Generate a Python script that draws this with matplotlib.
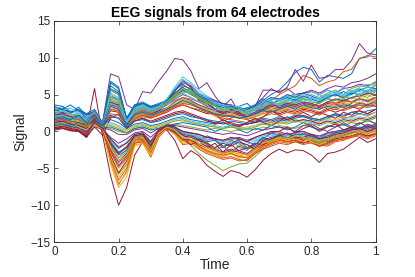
import matplotlib
matplotlib.use("Agg")
import matplotlib.pyplot as plt
from cycler import cycler

# sample times (s, normalised)
time = [0.0, 0.025, 0.05, 0.075, 0.1, 0.125, 0.15, 0.175, 0.2, 0.225, 0.25,
        0.275, 0.3, 0.325, 0.35, 0.375, 0.4, 0.425, 0.45, 0.475, 0.5,
        0.525, 0.55, 0.575, 0.6, 0.625, 0.65, 0.675, 0.7, 0.725, 0.75,
        0.775, 0.8, 0.825, 0.85, 0.875, 0.9, 0.925, 0.95, 0.975, 1.0]

# one list per electrode
ch01 = [3.0, 2.6, 2.4, 3.3, 2.2, 2.8, 1.0, 5.8, 5.2, 1.5, 3.4, 3.6, 3.0, 3.6, 4.0, 5.5, 6.8, 6.0, 5.0, 4.6, 4.0,
        3.8, 3.5, 3.0, 2.8, 3.4, 4.2, 5.0, 5.6, 6.7, 8.0, 8.7, 8.4, 6.7, 7.6, 7.4, 7.2, 7.8, 9.9, 10.1, 11.2]
ch02 = [2.2, 2.5, 2.0, 1.8, 1.9, 2.5, 0.8, 4.6, 4.4, 1.2, 2.8, 3.2, 2.5, 3.0, 3.6, 4.6, 5.8, 5.4, 4.6, 4.2, 3.6,
        3.2, 3.4, 2.8, 2.6, 3.0, 3.6, 4.2, 5.0, 5.6, 6.2, 7.6, 7.2, 6.2, 6.7, 7.0, 8.1, 8.4, 9.9, 10.3, 10.1]
ch03 = [0.8, 1.0, 0.6, 0.4, -0.2, 1.2, 0.4, -4.5, -7.6, -6.2, -1.8, -1.6, -3.4, -0.6, 0.6, -0.2, -1.6, -1.2, -2.0, -2.6, -2.8,
        -3.2, -3.0, -3.4, -3.0, -2.4, -1.8, -1.6, -1.2, -1.4, -1.0, -1.2, -0.8, -1.2, -1.6, -0.8, -0.6, -0.2, 0.2, 0.0, 0.4]
ch04 = [2.6, 2.4, 2.0, 2.2, 1.8, 2.4, 1.2, 7.8, 7.4, 3.6, 3.0, 5.4, 5.2, 6.8, 8.2, 9.9, 9.7, 8.2, 5.8, 6.6, 4.8,
        3.4, 4.4, 2.6, 2.8, 3.4, 5.6, 5.6, 5.4, 5.8, 5.0, 5.2, 5.4, 5.0, 5.6, 5.2, 5.8, 6.0, 6.4, 6.2, 6.6]
ch05 = [0.4, 0.6, 0.3, 0.2, -0.4, 1.0, 0.3, -3.6, -5.8, -4.4, -1.4, -1.2, -3.0, -0.4, 0.8, 0.0, -1.0, -1.9, -3.0, -3.9, -4.6,
        -5.3, -4.8, -4.4, -4.3, -3.4, -2.4, -1.6, -0.8, -1.0, -1.2, -0.9, -1.4, -1.8, -1.5, -1.2, -1.0, -0.6, -0.4, -0.8, -0.2]
ch06 = [2.8, 3.2, 2.6, 2.4, 2.0, 2.2, 1.0, 5.2, 4.6, 1.4, 3.2, 3.6, 3.2, 3.4, 4.4, 6.0, 7.4, 6.6, 5.6, 4.8, 4.2,
        3.4, 3.6, 3.0, 2.6, 3.2, 3.0, 3.6, 3.6, 4.0, 3.8, 4.4, 4.2, 3.8, 4.6, 5.0, 4.4, 5.0, 5.6, 5.2, 5.8]
ch07 = [0.2, 0.4, 0.1, 0.0, -0.8, 0.6, -0.5, -6.0, -10.0, -7.6, -3.2, -1.4, -2.4, 0.0, 0.2, -1.2, -3.7, -2.6, -3.3, -4.6, -5.4,
        -6.1, -5.3, -5.6, -6.2, -5.2, -3.9, -3.0, -2.4, -2.9, -2.5, -2.6, -3.2, -4.2, -3.0, -2.8, -2.4, -1.6, -0.8, -1.5, -1.0]
ch08 = [1.2, 1.4, 1.0, 0.8, 0.6, 1.4, 0.8, 1.6, 1.2, 0.4, 1.0, 1.2, 0.8, 1.0, 1.4, 1.8, 2.0, 1.6, 1.4, 1.2, 1.0,
        1.2, 0.8, 0.9, 1.0, 1.2, 1.4, 1.2, 1.6, 1.4, 1.8, 2.0, 1.6, 1.4, 1.8, 2.2, 1.8, 2.0, 2.4, 2.2, 2.6]
ch09 = [0.6, 0.9, 0.5, 0.3, -0.6, 1.4, 0.2, -4.0, -7.2, -5.4, -1.6, -1.4, -3.5, -0.8, 0.4, -0.4, -1.8, -1.6, -2.4, -3.0, -3.4,
        -3.8, -3.6, -4.0, -3.8, -3.0, -2.2, -1.8, -1.4, -1.6, -1.4, -1.8, -1.5, -2.0, -1.8, -1.2, -1.0, -0.8, -0.4, -0.6, -0.2]
ch10 = [1.8, 2.0, 1.6, 1.4, 1.2, 2.0, 0.9, 3.2, 3.0, 1.0, 2.2, 2.6, 2.2, 2.4, 2.8, 3.4, 3.8, 3.6, 3.2, 3.0, 2.0,
        1.6, 2.2, 2.6, 2.0, 1.6, 2.0, 2.6, 3.2, 2.6, 2.2, 2.8, 3.4, 3.8, 3.0, 3.4, 4.0, 3.6, 3.2, 3.8, 4.4]
ch11 = [3.2, 3.0, 2.6, 2.8, 2.2, 2.6, 1.1, 5.6, 5.0, 1.6, 3.4, 3.8, 3.2, 3.6, 4.2, 5.6, 6.6, 6.2, 5.2, 4.6, 4.2,
        3.8, 3.6, 3.2, 3.0, 3.6, 4.6, 5.8, 5.2, 6.0, 8.4, 6.8, 9.0, 7.2, 7.4, 8.4, 8.4, 9.6, 11.9, 10.6, 10.4]
ch12 = [0.6, 0.8, 0.5, 0.4, 0.2, 0.9, 0.6, 0.4, 0.0, -0.2, 0.4, 0.6, 0.2, 0.4, 0.8, 1.0, 0.8, 0.6, 0.4, 0.2, 0.4,
        0.2, 0.0, 0.2, 0.4, 0.2, 0.6, 0.4, 0.8, 0.6, 0.4, 0.8, 0.6, 0.2, 0.6, 1.0, 0.8, 1.2, 1.0, 1.4, 1.2]
ch13 = [0.9, 1.2, 0.8, 0.6, -0.2, 1.6, 0.5, -2.0, -3.6, -2.4, -0.8, -0.6, -2.0, -0.2, 0.8, 0.4, -0.4, -0.6, -0.6, -1.8, -2.4,
        -1.4, -1.0, -2.2, -2.6, -1.4, -0.8, -1.4, -0.6, -0.2, -0.8, -0.4, -0.8, -1.2, -0.6, -0.4, -0.2, 0.2, 0.4, 0.0, 0.6]
ch14 = [1.0, 1.2, 0.8, 0.6, 0.4, 5.8, -0.6, 1.8, 2.4, 0.6, 1.4, 1.8, 1.2, 1.6, 2.0, 2.4, 2.6, 2.2, 1.8, 1.4, 1.2,
        1.0, 1.2, 0.8, 1.0, 1.2, 1.6, 1.4, 1.8, 1.6, 2.0, 2.2, 1.8, 1.6, 2.0, 2.4, 2.0, 2.6, 2.8, 2.4, 3.0]
ch15 = [3.4, 3.0, 3.6, 2.8, 2.4, 3.0, 1.2, 6.2, 5.4, 1.8, 3.6, 3.8, 3.4, 3.8, 4.2, 5.2, 6.0, 5.2, 4.6, 4.2, 3.0,
        3.6, 2.6, 3.4, 3.8, 2.8, 3.2, 4.0, 3.2, 3.6, 4.4, 3.8, 3.2, 4.0, 4.6, 3.8, 3.2, 3.8, 4.4, 4.0, 4.6]
ch16 = [1.6, 1.8, 1.4, 1.2, 1.0, 2.4, 0.8, 4.0, 3.4, 0.8, 2.0, 2.4, 2.0, 2.6, 3.0, 3.6, 4.0, 3.8, 3.4, 2.8, 2.4,
        2.0, 2.2, 1.8, 2.0, 2.4, 2.8, 3.2, 3.0, 3.4, 3.2, 3.6, 3.4, 3.0, 3.6, 3.4, 3.8, 3.4, 4.0, 3.6, 4.2]
ch17 = [0.3, 0.6, 0.2, 0.1, -0.6, 1.0, 0.2, -3.4, -6.2, -4.6, -1.4, -1.2, -3.2, -0.6, 0.5, -0.4, -1.4, -1.6, -2.2, -2.6, -3.0,
        -3.4, -3.0, -3.6, -3.4, -2.6, -2.0, -1.6, -1.2, -1.4, -1.0, -1.2, -1.0, -1.6, -1.4, -1.0, -0.8, -0.4, 0.0, -0.2, 0.2]
ch18 = [2.4, 2.6, 2.2, 2.0, 1.6, 2.2, 1.0, 4.8, 4.4, 1.2, 3.0, 3.4, 2.8, 3.4, 4.0, 5.0, 6.2, 5.8, 4.8, 4.4, 3.8,
        3.4, 3.6, 3.0, 2.8, 3.2, 3.8, 4.4, 4.4, 4.8, 5.0, 5.2, 5.6, 5.2, 5.8, 6.2, 6.0, 6.6, 6.8, 7.2, 7.8]
ch19 = [2.0, 2.2, 1.8, 1.8, 1.4, 2.2, 0.9, 4.4, 4.0, 1.0, 2.6, 3.0, 2.4, 3.0, 3.6, 4.4, 5.6, 5.4, 4.6, 3.4, 3.6,
        2.8, 3.4, 2.4, 2.8, 3.2, 2.6, 3.8, 3.6, 4.2, 4.8, 4.0, 4.6, 4.2, 4.8, 5.0, 4.6, 5.2, 5.8, 5.4, 6.4]
ch20 = [0.7, 1.0, 0.6, 0.5, -0.2, 1.2, 0.6, -1.2, -2.4, -1.4, -0.4, -0.2, -1.2, 0.0, 0.8, 0.6, 0.0, -0.2, -0.6, -0.8, -1.0,
        -1.4, -1.2, -1.0, -1.4, -1.0, -0.6, -0.4, -0.2, -0.6, -0.4, -0.2, -0.6, -1.0, -0.4, -0.2, 0.0, 0.4, 0.2, 0.6, 0.4]
ch21 = [1.4, 1.6, 1.2, 1.0, 0.8, 1.8, 0.7, 2.8, 2.6, 0.8, 1.8, 2.2, 1.8, 2.2, 2.6, 3.2, 3.6, 3.2, 2.8, 2.4, 2.4,
        1.4, 1.8, 2.4, 1.6, 1.2, 2.0, 2.8, 2.2, 1.6, 2.0, 2.6, 2.0, 2.6, 2.2, 1.8, 2.6, 2.2, 2.8, 2.4, 3.0]
ch22 = [1.0, 1.2, 0.9, 0.7, 0.0, 1.4, 0.6, -1.8, -3.2, -2.6, -0.8, -0.6, -1.6, -0.2, 1.0, 0.6, -0.2, -0.4, -1.2, -0.6, -1.0,
        -2.0, -1.8, -1.0, -1.4, -1.8, -1.0, -0.2, -0.6, -1.0, 0.0, 0.0, -0.4, -0.8, -0.2, 0.0, 0.2, 0.6, 0.4, 0.8, 0.6]
ch23 = [0.5, 0.7, 0.4, 0.2, -0.6, 1.2, 0.3, -3.8, -6.6, -5.0, -1.6, -1.2, -3.0, -0.4, 0.6, -0.2, -1.2, -1.4, -2.2, -2.8, -3.2,
        -3.6, -3.4, -3.8, -4.0, -3.0, -2.4, -2.0, -1.6, -1.8, -1.4, -1.6, -1.2, -1.8, -2.0, -1.4, -1.2, -0.8, -0.6, -1.0, -0.6]
ch24 = [1.4, 2.2, 2.4, 1.6, 1.0, 2.4, 0.9, 3.6, 3.4, 1.0, 2.4, 2.8, 2.6, 2.8, 3.2, 3.8, 4.2, 4.0, 3.6, 3.2, 2.8,
        2.4, 2.6, 2.2, 2.0, 2.4, 2.8, 3.0, 2.8, 3.2, 3.4, 3.0, 3.6, 3.2, 3.8, 4.2, 4.0, 4.6, 4.2, 5.0, 4.4]
ch25 = [0.8, 1.0, 0.6, 0.4, -0.4, 1.2, 0.4, -2.4, -4.2, -3.2, -1.0, -0.8, -2.2, -0.2, 0.6, 0.0, -0.4, -1.4, -1.0, -1.8, -2.6,
        -2.0, -2.8, -2.0, -2.4, -2.0, -1.4, -1.0, -0.8, -1.2, -0.8, -1.0, -0.6, -1.2, -1.4, -0.8, -0.6, -0.2, 0.0, -0.4, 0.2]
ch26 = [2.6, 2.8, 2.4, 2.2, 1.6, 2.6, 1.0, 5.6, 5.0, 1.4, 3.0, 3.4, 2.8, 3.4, 4.0, 5.0, 5.2, 5.8, 4.2, 4.0, 3.6,
        2.6, 3.2, 2.2, 2.8, 3.0, 3.6, 4.0, 3.8, 4.4, 4.8, 4.4, 5.0, 4.6, 5.2, 5.6, 5.0, 5.8, 6.2, 6.0, 6.8]
ch27 = [3.0, 3.4, 2.8, 2.6, 2.0, 2.4, 1.1, 4.8, 4.2, 1.2, 3.2, 3.6, 3.0, 3.2, 4.2, 5.8, 6.8, 6.0, 4.8, 4.6, 3.8,
        3.6, 3.0, 3.4, 2.8, 3.4, 3.4, 4.6, 4.0, 4.6, 5.0, 4.6, 5.4, 5.0, 5.6, 5.2, 6.0, 5.4, 6.0, 6.4, 6.2]
ch28 = [1.6, 1.8, 1.4, 1.2, 0.8, 2.0, 0.8, 3.8, 3.6, 0.8, 2.2, 2.6, 2.2, 2.8, 3.8, 5.4, 7.0, 6.0, 4.2, 3.8, 3.0,
        2.4, 3.0, 2.6, 1.8, 2.2, 3.0, 2.8, 2.4, 2.8, 2.6, 3.0, 2.8, 2.4, 3.0, 2.6, 3.0, 3.4, 3.0, 3.6, 3.4]
ch29 = [0.4, 0.6, 0.3, 0.2, 0.0, 0.8, 0.5, 0.6, 0.2, -0.2, 0.4, 0.6, 0.2, 0.4, 0.8, 1.0, 1.2, 1.0, 0.8, 0.6, 0.0,
        0.4, 0.8, 0.2, -0.2, 0.4, 0.2, 0.8, 0.6, 0.2, 0.6, 1.2, 0.6, 0.2, 0.8, 0.6, 1.0, 0.4, 1.0, 1.6, 1.0]
ch30 = [0.6, 0.8, 0.5, 0.3, -0.4, 1.0, 0.4, -1.6, -3.0, -2.0, -0.6, -0.4, -1.6, 0.0, 0.8, 0.4, -0.2, -0.4, -0.8, -1.2, -1.0,
        -2.2, -1.2, -1.6, -2.4, -1.8, -0.8, -1.2, -0.2, -0.8, -1.0, -0.2, -0.6, -1.2, -0.2, -0.2, 0.0, 0.2, 0.4, 0.2, 0.6]
ch31 = [0.4, 0.6, 0.3, 0.2, -0.6, 1.1, 0.2, -4.2, -7.0, -5.6, -2.0, -1.6, -3.3, -0.6, 0.4, -0.4, -1.6, -1.4, -2.0, -2.4, -2.6,
        -3.0, -2.8, -3.0, -3.2, -2.6, -1.8, -1.4, -1.0, -1.2, -0.8, -1.0, -0.8, -1.2, -1.0, -0.6, -0.4, 0.0, 0.2, 0.0, 0.4]
ch32 = [0.2, 0.4, 0.1, 0.0, -0.4, 0.6, 0.3, -0.8, -1.6, -1.0, -0.2, 0.0, -0.8, 0.2, 0.6, 0.4, 0.0, -0.2, -0.4, -0.8, -1.0,
        -1.2, -1.0, -0.8, -1.2, -0.8, -0.4, -0.2, 0.0, -0.4, -0.2, 0.0, -0.4, -0.6, -0.2, 0.0, 0.2, 0.4, 0.2, 0.6, 0.4]
ch33 = [1.6, 1.8, 1.4, 1.4, 1.0, 1.8, 0.8, 3.0, 2.8, 0.8, 2.0, 2.4, 2.0, 2.4, 3.0, 3.6, 4.4, 4.0, 3.4, 3.0, 2.6,
        2.2, 2.4, 2.0, 1.8, 2.2, 2.6, 3.0, 2.8, 3.2, 3.6, 3.2, 3.8, 3.4, 4.0, 4.4, 4.0, 4.6, 5.0, 4.6, 5.4]
ch34 = [2.4, 2.8, 2.2, 2.0, 1.6, 2.2, 1.0, 4.2, 3.8, 1.2, 2.8, 3.2, 2.8, 3.0, 3.6, 4.8, 5.8, 5.2, 4.4, 4.0, 3.4,
        3.0, 3.2, 2.8, 2.4, 2.8, 3.4, 3.8, 3.6, 4.2, 4.2, 4.8, 4.2, 5.0, 4.4, 5.2, 4.8, 5.4, 5.8, 5.2, 6.2]
ch35 = [0.7, 0.9, 0.5, 0.4, -0.8, 1.8, 0.2, -3.2, -5.6, -4.0, -1.2, -1.0, -2.8, -0.4, 0.6, 0.0, -1.0, -1.2, -1.8, -2.2, -2.6,
        -3.0, -2.6, -2.8, -3.2, -2.4, -1.8, -1.4, -1.0, -1.4, -1.2, -1.6, -1.2, -2.0, -1.6, -1.0, -0.8, -0.6, -0.2, -0.6, -0.4]
ch36 = [2.8, 3.0, 2.6, 3.0, 1.8, 2.4, 1.0, 6.6, 5.8, 1.6, 3.4, 3.8, 3.2, 3.6, 4.0, 4.8, 5.6, 5.0, 4.4, 4.0, 3.6,
        3.2, 3.4, 3.0, 3.2, 3.6, 4.4, 3.8, 4.2, 4.6, 4.2, 4.8, 4.4, 4.0, 4.6, 5.0, 4.6, 5.2, 5.0, 5.6, 5.4]
ch37 = [1.2, 1.4, 1.0, 0.8, 0.6, 1.6, 0.7, 2.4, 2.2, 0.6, 1.6, 2.0, 1.8, 2.2, 2.8, 3.4, 3.8, 3.6, 3.2, 2.6, 2.2,
        1.8, 1.6, 1.4, 1.2, 1.6, 2.0, 2.4, 2.2, 2.6, 2.4, 2.8, 2.6, 2.2, 2.8, 3.0, 2.8, 3.2, 3.6, 3.2, 3.6]
ch38 = [0.5, 0.8, 0.4, 0.3, -0.4, 1.2, 0.3, -2.8, -5.0, -3.8, -1.2, -1.0, -3.0, -0.4, 0.6, 0.0, -1.0, -1.4, -2.2, -2.8, -3.2,
        -3.4, -3.0, -3.2, -3.6, -2.8, -2.0, -1.4, -1.0, -1.2, -0.8, -1.0, -1.4, -1.8, -1.2, -0.8, -0.6, -0.2, 0.0, -0.4, 0.0]
ch39 = [0.6, 0.8, 0.4, 0.2, -0.6, 1.0, 0.3, -2.6, -4.6, -3.4, -1.0, -0.8, -2.4, -0.2, 0.6, 0.0, -1.0, -1.2, -1.6, -2.0, -2.4,
        -2.8, -2.4, -2.6, -3.0, -2.2, -1.6, -1.2, -0.8, -1.0, -0.6, -0.8, -1.0, -1.4, -1.0, -0.6, -0.4, 0.0, 0.2, -0.2, 0.2]
ch40 = [2.2, 2.4, 2.0, 1.8, 1.4, 2.4, 0.9, 4.2, 3.8, 1.0, 2.6, 3.0, 2.6, 3.2, 3.8, 4.8, 5.4, 5.2, 4.4, 3.8, 3.6,
        2.6, 3.2, 2.8, 2.4, 3.0, 2.8, 3.4, 3.8, 3.4, 4.0, 4.0, 3.6, 3.4, 4.0, 3.8, 4.4, 4.0, 4.6, 5.2, 5.0]
ch41 = [1.0, 1.2, 0.8, 0.7, 0.4, 1.0, 0.7, 1.2, 0.8, 0.2, 0.8, 1.0, 0.6, 0.8, 1.2, 1.6, 1.8, 1.4, 1.2, 1.0, 0.8,
        0.6, 0.8, 0.6, 0.4, 0.8, 1.2, 1.0, 1.4, 1.2, 1.6, 1.4, 1.2, 1.0, 1.6, 1.4, 1.8, 1.6, 2.0, 1.8, 2.2]
ch42 = [0.4, 0.6, 0.2, 0.1, -0.8, 1.4, 0.0, -2.2, -4.0, -3.0, -1.0, -0.8, -2.6, -0.2, 0.4, -0.2, -1.0, -1.8, -1.2, -2.2, -1.6,
        -2.8, -1.8, -2.6, -2.2, -1.6, -1.8, -1.0, -0.6, -1.0, -0.8, -1.2, -0.8, -1.6, -1.0, -0.6, -0.4, -0.2, 0.2, 0.0, 0.2]
ch43 = [3.6, 3.4, 2.6, 3.0, 2.4, 2.6, 1.1, 6.8, 6.0, 1.8, 3.6, 4.0, 3.4, 3.6, 4.2, 5.6, 6.4, 5.6, 4.8, 4.4, 3.8,
        3.4, 3.6, 3.2, 3.0, 3.4, 4.0, 4.6, 4.4, 5.0, 4.6, 5.2, 4.8, 4.4, 5.0, 4.8, 5.4, 5.0, 5.6, 6.0, 5.8]
ch44 = [1.4, 1.6, 1.2, 1.0, 0.8, 2.0, 0.8, 3.0, 2.8, 0.6, 1.8, 2.2, 2.0, 2.4, 3.0, 3.4, 3.6, 3.2, 3.0, 2.6, 2.4,
        2.0, 2.2, 1.8, 1.6, 2.0, 2.4, 2.8, 2.6, 3.0, 2.8, 3.2, 3.0, 2.6, 3.2, 3.0, 3.4, 3.2, 3.6, 3.4, 3.8]
ch45 = [0.4, 1.0, 1.4, 0.6, 0.2, 1.4, 0.6, 1.0, 0.6, 0.0, 0.8, 1.0, 0.6, 0.8, 1.2, 1.6, 1.4, 1.2, 1.0, 0.8, 0.6,
        0.4, 0.6, 0.4, 0.6, 0.8, 1.0, 1.2, 1.0, 1.4, 1.2, 1.6, 1.4, 1.2, 1.8, 1.6, 2.0, 1.8, 2.4, 2.0, 2.6]
ch46 = [2.0, 2.2, 1.8, 1.6, 1.2, 2.0, 0.9, 3.6, 3.2, 1.0, 2.4, 2.8, 2.4, 2.8, 3.2, 4.0, 4.6, 4.2, 3.6, 3.2, 2.8,
        2.4, 2.6, 2.2, 2.0, 2.4, 3.0, 3.4, 3.2, 3.6, 3.4, 3.8, 3.6, 3.2, 3.8, 3.6, 4.2, 4.0, 4.4, 4.2, 4.6]
ch47 = [0.5, 0.7, 0.4, 0.2, -0.5, 1.0, 0.4, -2.0, -3.6, -2.8, -0.8, -0.6, -2.2, -0.2, 0.6, 0.2, -1.0, -0.6, -1.8, -1.4, -2.6,
        -2.0, -2.8, -1.8, -2.2, -2.4, -1.2, -1.4, -0.6, -1.0, -0.8, -1.0, -1.2, -1.6, -1.2, -0.8, -0.6, -0.2, 0.0, -0.2, 0.2]
ch48 = [0.6, 0.8, 0.5, 0.4, -0.2, 0.9, 0.5, -1.0, -2.0, -1.6, -0.4, -0.2, -1.4, 0.0, 0.6, 0.4, -0.2, -0.4, -0.8, -1.0, -1.2,
        -1.6, -1.4, -1.6, -1.8, -1.2, -0.8, -0.6, -0.4, -0.6, -0.4, -0.6, -0.8, -1.2, -0.8, -0.4, -0.2, 0.2, 0.0, 0.4, 0.2]
ch49 = [1.2, 1.4, 1.0, 0.8, 0.4, 1.6, 0.6, 2.0, 1.8, 0.4, 1.4, 1.8, 1.4, 1.8, 2.2, 2.6, 2.8, 2.4, 2.0, 1.6, 1.0,
        1.6, 1.0, 0.6, 1.2, 1.8, 1.2, 0.8, 1.4, 2.0, 1.4, 1.6, 1.4, 1.0, 1.4, 1.2, 1.6, 1.4, 1.8, 1.6, 2.0]
ch50 = [0.8, 1.0, 0.7, 0.5, -0.2, 1.2, 0.5, -1.4, -2.8, -2.2, -0.6, -0.4, -1.8, -0.2, 0.8, 0.4, -0.4, -0.6, -1.0, -1.4, -1.2,
        -2.2, -1.6, -1.2, -2.2, -1.8, -0.8, -1.2, -0.4, -1.0, -0.4, -0.4, -0.6, -1.0, -0.6, -0.2, 0.0, 0.2, 0.6, 0.4, 0.8]
ch51 = [0.4, 0.7, 0.3, 0.2, -0.5, 1.1, 0.3, -2.8, -4.8, -3.6, -1.2, -1.0, -2.8, -0.4, 0.5, -0.2, -1.2, -1.2, -2.0, -2.6, -3.0,
        -3.2, -3.0, -3.4, -3.6, -2.8, -2.0, -1.6, -1.2, -1.4, -1.2, -1.4, -1.6, -2.0, -1.6, -1.2, -1.0, -0.6, -0.4, -0.8, -0.4]
ch52 = [1.6, 1.8, 1.4, 1.2, 1.0, 2.0, 0.8, 3.4, 3.0, 0.8, 2.0, 2.6, 2.2, 2.6, 3.2, 3.8, 4.0, 3.8, 3.4, 3.0, 2.6,
        2.2, 2.4, 2.0, 1.8, 2.2, 2.6, 3.0, 2.8, 3.2, 3.0, 3.4, 3.2, 3.6, 3.2, 3.8, 3.6, 4.0, 3.8, 4.4, 4.0]
ch53 = [0.6, 0.8, 0.5, 0.4, 0.0, 1.0, 0.5, 0.2, -0.4, -0.4, 0.2, 0.4, -0.2, 0.4, 0.8, 0.8, 0.6, 0.4, 0.2, 0.0, -0.2,
        -0.4, -0.2, -0.4, -0.6, -0.2, 0.2, 0.4, 0.6, 0.4, 0.0, 0.8, 1.0, 0.4, 0.0, 0.6, 1.2, 0.6, 0.4, 1.0, 0.6]
ch54 = [1.8, 2.0, 1.6, 1.6, 1.2, 2.2, 0.9, 4.6, 4.2, 1.2, 2.8, 3.2, 2.8, 3.2, 4.0, 5.0, 5.8, 5.6, 4.6, 4.0, 3.4,
        3.0, 3.2, 2.8, 2.6, 3.0, 3.4, 3.8, 3.4, 4.0, 3.8, 4.4, 4.0, 3.8, 4.4, 4.2, 4.8, 4.4, 5.2, 5.0, 5.6]
ch55 = [2.2, 2.8, 3.2, 2.4, 1.8, 2.6, 1.0, 5.0, 4.4, 1.4, 3.0, 3.4, 3.0, 3.4, 4.4, 5.8, 7.0, 6.4, 5.2, 4.6, 3.8,
        3.4, 3.6, 3.2, 2.8, 3.2, 4.0, 4.4, 4.2, 4.8, 4.4, 5.0, 4.6, 4.4, 5.0, 5.4, 5.0, 5.6, 5.4, 6.0, 5.6]
ch56 = [0.3, 0.5, 0.2, 0.1, -0.6, 1.4, 0.2, -1.6, -3.0, -2.2, -0.6, -0.4, -2.0, 0.0, 0.6, 0.2, -0.6, -0.8, -1.2, -1.6, -2.2,
        -1.6, -2.0, -1.4, -1.8, -2.4, -1.2, -0.8, -0.6, -0.2, -0.8, -0.8, -0.4, -1.0, -0.8, -0.4, -0.2, 0.2, 0.4, 0.0, 0.4]
ch57 = [1.6, 1.8, 1.4, 1.2, 1.0, 1.6, 0.8, 2.2, 1.8, 0.6, 1.4, 1.6, 1.2, 1.4, 1.8, 2.2, 2.4, 2.0, 1.8, 1.6, 1.4,
        1.2, 1.4, 1.2, 1.0, 1.4, 1.8, 1.6, 2.0, 1.8, 2.2, 2.0, 1.8, 1.6, 2.0, 2.4, 2.2, 2.6, 2.4, 2.8, 3.0]
ch58 = [2.0, 2.4, 1.8, 1.6, 1.4, 2.4, 0.9, 3.8, 3.4, 1.0, 2.4, 2.8, 2.4, 3.0, 3.6, 4.2, 4.6, 4.4, 4.0, 3.4, 3.0,
        2.6, 2.8, 2.4, 2.2, 2.6, 3.2, 3.6, 3.4, 3.8, 3.6, 4.0, 3.8, 3.4, 4.0, 3.8, 4.2, 4.0, 4.4, 4.2, 4.6]
ch59 = [0.6, 0.8, 0.4, 0.3, -0.4, 1.0, 0.3, -2.2, -4.0, -3.2, -1.0, -0.8, -2.6, -0.2, 0.6, 0.2, -0.8, -1.0, -1.6, -2.2, -2.6,
        -3.0, -2.8, -3.0, -3.2, -2.4, -1.6, -1.2, -0.8, -1.0, -0.6, -0.8, -1.0, -1.4, -1.0, -0.6, -0.4, 0.0, 0.2, -0.2, 0.2]
ch60 = [2.2, 2.4, 2.0, 1.8, 1.4, 2.2, 1.0, 4.0, 3.6, 1.0, 2.6, 3.0, 2.6, 3.0, 3.6, 4.4, 5.0, 4.6, 4.0, 3.6, 3.0,
        2.6, 2.8, 2.4, 2.2, 2.6, 3.2, 3.6, 3.4, 3.8, 3.6, 4.0, 3.8, 3.4, 4.0, 4.4, 4.2, 4.6, 4.8, 5.2, 5.0]
ch61 = [1.2, 0.6, 0.4, 1.0, 0.6, 1.2, 0.6, 0.8, 0.4, -0.2, 0.6, 0.8, 0.4, 0.6, 1.0, 1.4, 1.6, 1.2, 1.0, 0.8, 0.6,
        0.4, 0.6, 0.4, 0.2, 0.6, 1.0, 0.8, 1.2, 1.0, 1.4, 1.2, 1.0, 0.8, 1.2, 1.0, 1.4, 1.2, 1.6, 1.4, 1.8]
ch62 = [2.0, 2.2, 1.8, 1.8, 1.4, 2.0, 0.9, 3.8, 3.4, 1.2, 2.6, 3.0, 2.6, 3.0, 3.6, 4.4, 5.2, 4.6, 4.0, 3.6, 2.8,
        3.4, 2.6, 3.0, 2.2, 3.0, 3.2, 4.2, 3.4, 4.4, 4.0, 4.0, 4.6, 4.2, 4.8, 5.2, 4.8, 5.4, 5.0, 5.6, 5.4]
ch63 = [0.5, 0.7, 0.4, 0.2, -0.4, 1.2, 0.4, -1.0, -2.2, -1.6, -0.4, -0.2, -1.4, 0.2, 0.8, 0.6, 0.0, -0.2, -0.4, -0.8, -1.0,
        -1.2, -0.8, -1.0, -1.4, -0.8, -0.4, 0.0, 0.0, 0.6, -0.2, 0.4, 0.8, 0.0, 0.6, 1.0, 0.2, 0.6, 1.2, 0.6, 1.0]
ch64 = [1.8, 2.0, 1.6, 2.2, 1.2, 2.0, 0.8, 3.4, 3.0, 0.8, 2.2, 2.6, 2.2, 2.6, 3.0, 3.6, 4.2, 3.8, 3.2, 2.8, 2.4,
        2.2, 2.0, 1.8, 2.0, 2.4, 2.8, 2.6, 3.0, 3.4, 3.0, 3.6, 3.2, 3.0, 3.4, 3.2, 3.6, 3.4, 3.8, 3.6, 4.0]

signals = [ch01, ch02, ch03, ch04, ch05, ch06, ch07, ch08, ch09, ch10, ch11, ch12, ch13, ch14, ch15, ch16,
           ch17, ch18, ch19, ch20, ch21, ch22, ch23, ch24, ch25, ch26, ch27, ch28, ch29, ch30, ch31, ch32,
           ch33, ch34, ch35, ch36, ch37, ch38, ch39, ch40, ch41, ch42, ch43, ch44, ch45, ch46, ch47, ch48,
           ch49, ch50, ch51, ch52, ch53, ch54, ch55, ch56, ch57, ch58, ch59, ch60, ch61, ch62, ch63, ch64]

for i, s in enumerate(signals):
    assert len(s) == len(time), (i + 1, len(s))

# MATLAB default line colour order
MATLAB_COLORS = ["#0072BD", "#D95319", "#EDB120", "#7E2F8E", "#77AC30", "#4DBEEE", "#A2142F"]
AXIS_COLOR = "#262626"

plt.rcParams["font.family"] = ["Liberation Sans", "DejaVu Sans"]
plt.rcParams["axes.prop_cycle"] = cycler(color=MATLAB_COLORS)

fig = plt.figure(figsize=(4.15, 2.77), dpi=100)
ax = fig.add_axes([0.131, 0.126, 0.774, 0.799])

for s in signals:
    ax.plot(time, s, linewidth=0.7)

ax.set_xlim(0, 1)
ax.set_ylim(-15, 15)
ax.set_xticks([0, 0.2, 0.4, 0.6, 0.8, 1])
ax.set_xticklabels(["0", "0.2", "0.4", "0.6", "0.8", "1"])
ax.set_yticks([-15, -10, -5, 0, 5, 10, 15])
ax.tick_params(direction="in", length=3, width=0.5, colors=AXIS_COLOR,
               labelsize=8.5, top=True, right=True, pad=3)
for sp in ax.spines.values():
    sp.set_color(AXIS_COLOR)
    sp.set_linewidth(0.6)

ax.set_title("EEG signals from 64 electrodes", fontsize=10, fontweight="bold",
             color="black", pad=3)
ax.set_xlabel("Time", fontsize=10, color=AXIS_COLOR, labelpad=0)
ax.set_ylabel("Signal", fontsize=10, color=AXIS_COLOR, labelpad=2)

fig.savefig("out.png", dpi=100)
